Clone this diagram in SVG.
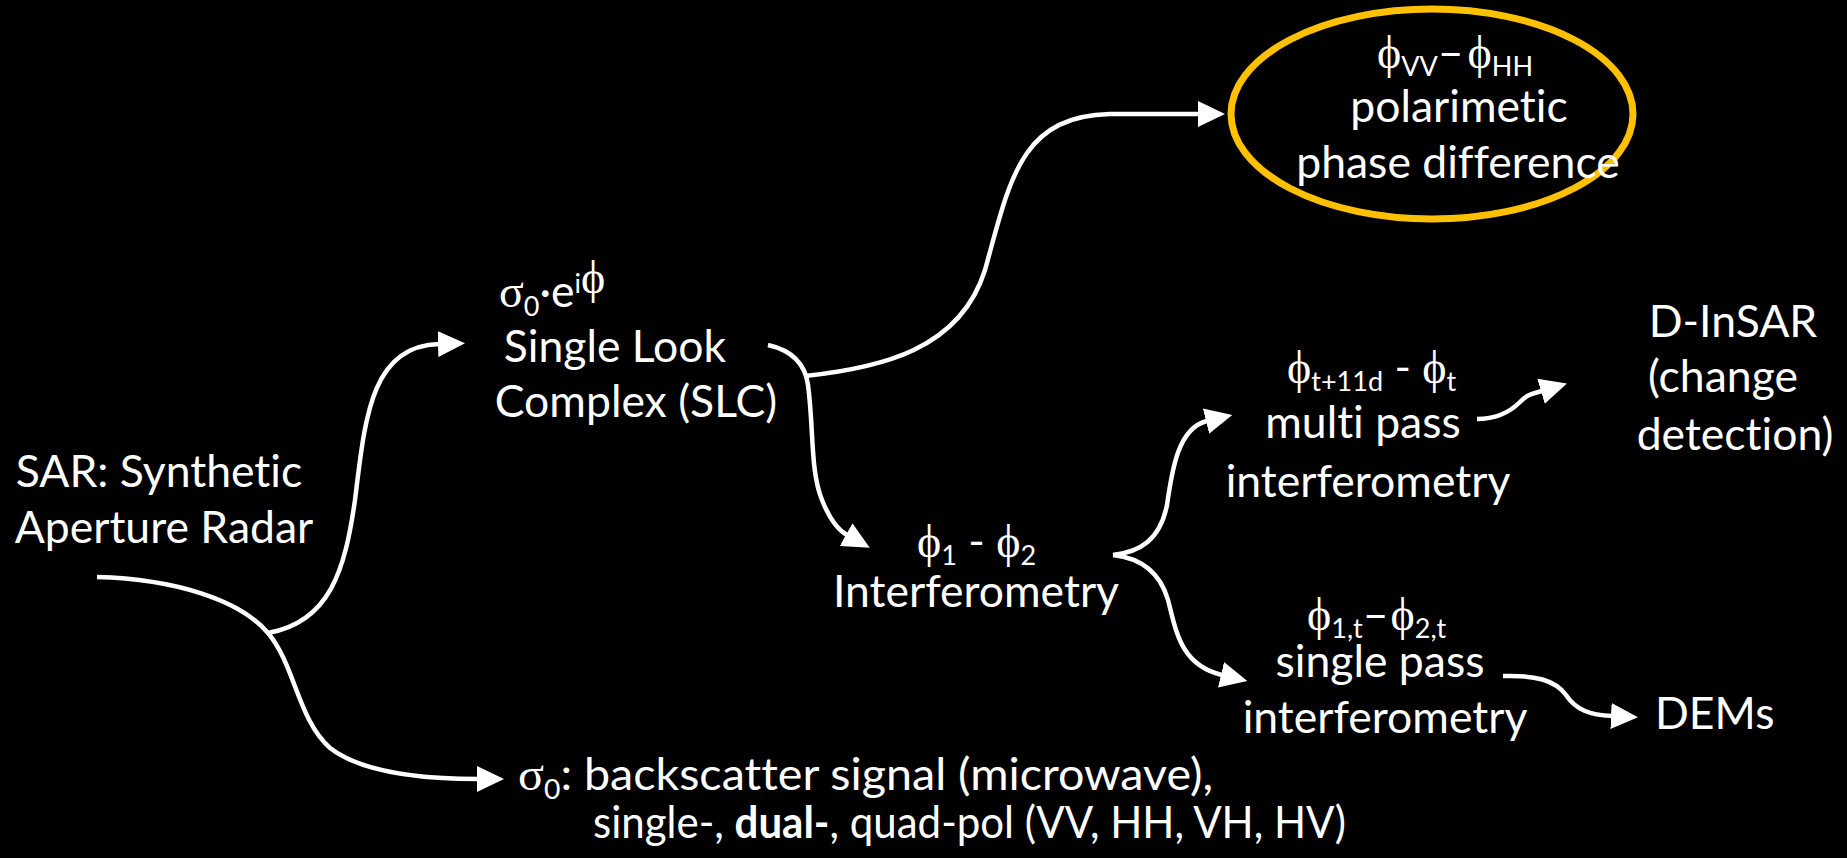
<svg xmlns="http://www.w3.org/2000/svg" width="1847" height="858" viewBox="0 0 1847 858">
<defs>
<marker id="arrow" markerUnits="userSpaceOnUse" viewBox="0 0 28 26" markerWidth="28" markerHeight="26" refX="1" refY="13" orient="auto">
<path d="M0,0 L27,13 L0,26 Z" fill="#fff"/>
</marker>
<style>
.t { font-family: Lato, "Open Sans", sans-serif; font-size: 44.5px; fill: #fff; font-variant-ligatures: none; }
.g { font-family: "Liberation Serif", "DejaVu Serif", serif; font-size: 46px; }
.sub { font-size: 27px; }
.b { font-weight: bold; }
.c { fill: none; stroke: #fff; stroke-width: 4.5; }
.a { marker-end: url(#arrow); }
</style>
</defs>
<rect width="1847" height="858" fill="#000"/>

<g id="connectors">
<path class="c a" d="M97,577 C175,579 240,600 268,633 C295,665 298,720 330,748 C365,775 430,779 478,779"/>
<path class="c a" d="M268,633 C330,622 345,570 355,500 C365,420 370,346 439,344"/>
<path class="c a" d="M768,345 C790,350 805,362 808,385 C814,430 810,470 822,500 C830,520 838,530 847,535"/>
<path class="c a" d="M805,376 C880,368 960,350 985,270 C1010,180 1020,116 1110,114 L1199,114"/>
<path class="c a" d="M1113,555 C1140,552 1160,540 1167,505 C1172,470 1178,428 1207,421"/>
<path class="c a" d="M1113,555 C1140,558 1160,572 1168,600 C1176,630 1180,665 1222,675"/>
<path class="c a" d="M1477,419 C1500,419 1512,410 1520,402 C1528,394 1532,394 1542,391"/>
<path class="c a" d="M1503,676 C1535,675 1555,680 1566,695 C1576,710 1590,715 1612,716"/>
</g>

<g id="sar">
<text class="t" text-anchor="middle"><tspan x="159" y="487">SAR: Synthetic</tspan><tspan x="164" y="543">Aperture Radar</tspan></text>
</g>

<g id="slc">
<text class="t" x="499" y="307"><tspan class="g">σ</tspan><tspan class="sub" dy="9">0</tspan><tspan dy="-9">·e</tspan><tspan class="sub" dy="-14">i</tspan><tspan class="g" font-size="27">ϕ</tspan></text>
<text class="t" text-anchor="middle"><tspan x="615" y="362">Single Look</tspan><tspan x="636" y="417">Complex (SLC)</tspan></text>
</g>

<g id="interferometry">
<text class="t" x="917" y="557"><tspan class="g">ϕ</tspan><tspan class="sub" dy="8">1</tspan><tspan dy="-8"> - </tspan><tspan class="g">ϕ</tspan><tspan class="sub" dy="8">2</tspan></text>
<text class="t" x="976" y="607" text-anchor="middle">Interferometry</text>
</g>

<g id="polarimetric">
<ellipse cx="1432" cy="114" rx="201" ry="105" fill="none" stroke="#FFC000" stroke-width="7"/>
<text class="t" x="1377" y="68"><tspan class="g">ϕ</tspan><tspan class="sub" dy="8">VV</tspan><tspan dy="-8">–</tspan><tspan class="g" dx="4">ϕ</tspan><tspan class="sub" dy="8">HH</tspan></text>
<text class="t" text-anchor="middle"><tspan x="1459" y="122">polarimetic</tspan><tspan x="1458" y="178">phase difference</tspan></text>
</g>

<g id="multipass">
<text class="t" x="1287" y="383"><tspan class="g">ϕ</tspan><tspan class="sub" dy="8">t+11d</tspan><tspan dy="-8"> - </tspan><tspan class="g">ϕ</tspan><tspan class="sub" dy="8">t</tspan></text>
<text class="t" text-anchor="middle"><tspan x="1363" y="438">multi pass</tspan><tspan x="1368" y="497">interferometry</tspan></text>
</g>

<g id="singlepass">
<text class="t" x="1307" y="630"><tspan class="g">ϕ</tspan><tspan class="sub" dy="8">1,t</tspan><tspan dy="-8">–</tspan><tspan class="g" dx="2">ϕ</tspan><tspan class="sub" dy="8">2,t</tspan></text>
<text class="t" text-anchor="middle"><tspan x="1380" y="677">single pass</tspan><tspan x="1385" y="733">interferometry</tspan></text>
</g>

<g id="dinsar">
<text class="t" text-anchor="middle"><tspan x="1733" y="337">D-InSAR</tspan><tspan x="1723" y="392">(change</tspan><tspan x="1735" y="450">detection)</tspan></text>
</g>

<g id="dems">
<text class="t" x="1655" y="729">DEMs</text>
</g>

<g id="backscatter">
<text class="t" x="518" y="790" textLength="695" lengthAdjust="spacingAndGlyphs"><tspan class="g">σ</tspan><tspan class="sub" dy="9">0</tspan><tspan dy="-9">: backscatter signal (microwave),</tspan></text>
<text class="t" x="593" y="838" textLength="753" lengthAdjust="spacingAndGlyphs">single-, <tspan class="b">dual-</tspan>, quad-pol (VV, HH, VH, HV)</text>
</g>
</svg>
